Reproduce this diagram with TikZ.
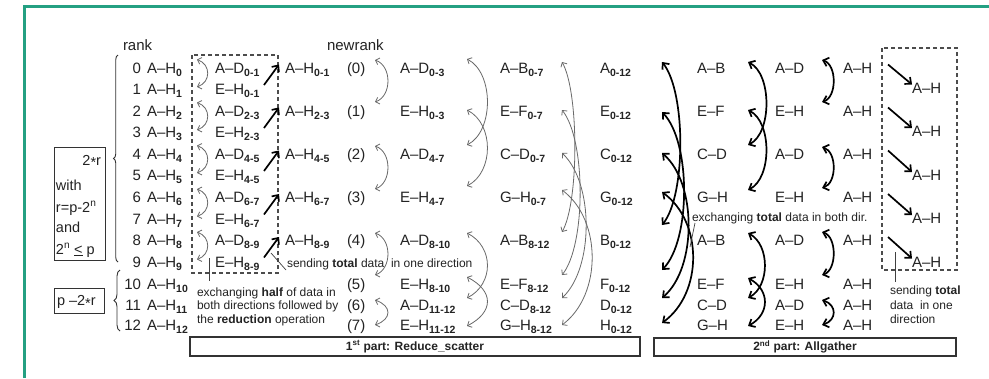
\documentclass[tikz,border=0pt]{standalone}
\usepackage{fontspec}
\setmainfont{Liberation Sans}
\usetikzlibrary{arrows.meta,decorations.pathreplacing}
\definecolor{framegreen}{RGB}{36,160,130}
\definecolor{arrgray}{RGB}{105,105,105}
\definecolor{txt}{RGB}{35,35,35}
\newcommand{\sbs}[1]{\raisebox{-3pt}{\fontsize{10.5}{12}\selectfont\bfseries #1}}
\newcommand{\astr}{\raisebox{-2.5pt}{*}}
\begin{document}
\begin{tikzpicture}[x=1pt,y=-1pt,
  every node/.style={inner sep=0pt,outer sep=0pt,text=txt},
  lab/.style={anchor=base west,font=\fontsize{15}{17}\selectfont},
  num/.style={anchor=base east,font=\fontsize{15}{17}\selectfont},
  note/.style={anchor=base west,font=\fontsize{12}{14}\selectfont},
  grayarr/.style={draw=arrgray,line width=0.8pt,{Straight Barb[length=3.5pt,width=7pt]}-{Straight Barb[length=3.5pt,width=7pt]}},
  blackarr/.style={draw=black,line width=1.7pt,{Straight Barb[length=5pt,width=9pt]}-{Straight Barb[length=5pt,width=9pt]}},
  sendarr/.style={draw=black,line width=1.7pt,-{Straight Barb[length=5pt,width=9pt]}},
  dashbox/.style={draw=black!70,line width=1.1pt,dash pattern=on 4pt off 3pt},
  leader/.style={draw=black!75,line width=0.7pt},
  partbox/.style={draw=black!80,line width=1.1pt,anchor=north west,font=\fontsize{12}{14}\selectfont\bfseries},
  condbox/.style={draw=black!80,line width=1pt,anchor=north west},
]
\useasboundingbox (0,0) rectangle (989,378);
\fill[white] (0,0) rectangle (989,378);
% green frame
\draw[framegreen,line width=3pt] (24,378) -- (24,6) -- (989,6);

% headers
\node[lab] (rank) at (123,50) {rank};
\node[lab] (newrank) at (327,50) {newrank};

% rank rows
\foreach \i/\b in {0/73,1/94.5,2/116,3/137.5,4/159,5/180.5,6/202.5,7/224,8/245.5,9/267,10/289.5,11/310,12/330.5}{
  \node[num] (n\i) at (141,\b) {\i};
  \node[lab] (r\i) at (147,\b) {A–H\sbs{\i}};
}

% braces and condition boxes
\draw[black!80,line width=0.9pt,decorate,decoration={brace,amplitude=4.5pt}] (118,262) -- (118,55);
\draw[black!80,line width=0.9pt,decorate,decoration={brace,amplitude=6pt}] (120,331) -- (120,270);
\node[condbox,minimum width=51pt,minimum height=113pt] (cond1) at (54,147) {};
\node[anchor=base east,font=\fontsize{14.5}{17}\selectfont] (tr) at (101,165) {2\astr r};
\node[anchor=base west,font=\fontsize{14.5}{17}\selectfont] (tw) at (56,190) {with};
\node[anchor=base west,font=\fontsize{14.5}{17}\selectfont] (tp) at (56,212) {r=p-2\textsuperscript{n}};
\node[anchor=base west,font=\fontsize{14.5}{17}\selectfont] (ta) at (56,232) {and};
\node[anchor=base west,font=\fontsize{14.5}{17}\selectfont] (tn) at (56,254) {2\textsuperscript{n} \underline{<} p};
\node[condbox,minimum width=50pt,minimum height=25pt] (cond2) at (54,288) {};
\node[anchor=base west,font=\fontsize{14.5}{17}\selectfont] (tq) at (57,305.5) {p –2\astr r};

% first dashed box column
\draw[dashbox] (192,55) rectangle (278,273);
\foreach \i/\b/\lb/\s in {0/73/A–D/0-1, 1/94.5/E–H/0-1, 2/116/A–D/2-3, 3/137.5/E–H/2-3, 4/159/A–D/4-5, 5/180.5/E–H/4-5, 6/202.5/A–D/6-7, 7/224/E–H/6-7, 8/245.5/A–D/8-9, 9/267/E–H/8-9}
  \node[lab] (h\i) at (215,\b) {\lb\sbs{\s}};
\foreach \i/\b/\s in {0/73/0-1, 2/116/2-3, 4/159/4-5, 6/202.5/6-7, 8/245.5/8-9}
  \node[lab] (m\i) at (285,\b) {A–H\sbs{\s}};

% gray exchange arrows in first box
\foreach \n/\ya/\yb in {a/59.5/87, b/102.5/130, c/145.5/173, d/189/216.5, e/232/259.5}{
  \coordinate (g\n T) at (197,\ya);
  \coordinate (g\n B) at (197,\yb);
  \draw[grayarr] (g\n T) .. controls +(14,5) and +(14,-5) .. (g\n B);
}
% thick send arrows in first box
\foreach \n/\ya/\yb in {a/85/64.5, b/128/107.5, c/171/150.5, d/214.5/194, e/257.5/237}{
  \coordinate (k\n S) at (264,\ya);
  \coordinate (k\n E) at (279,\yb);
  \draw[sendarr] (k\n S) -- (k\n E);
}

% newrank column
\foreach \i/\b in {0/73,1/116,2/159,3/202.5,4/245.5,5/289.5,6/310,7/330.5}
  \node[lab] (p\i) at (347,\b) {(\i)};
\foreach \n/\ya/\yb in {a/60/102, b/146/189, c/233/275, d/300/325}{
  \coordinate (e\n T) at (375,\ya);
  \coordinate (e\n B) at (375,\yb);
  \draw[grayarr] (e\n T) .. controls +(17,6) and +(17,-6) .. (e\n B);
}

% A-D column
\foreach \i/\b/\lb/\s in {0/73/A–D/0-3, 1/116/E–H/0-3, 2/159/A–D/4-7, 3/202.5/E–H/4-7, 4/245.5/A–D/8-10, 5/289.5/E–H/8-10, 6/310/A–D/11-12, 7/330.5/E–H/11-12}
  \node[lab] (q\i) at (400,\b) {\lb\sbs{\s}};
\foreach \n/\ya/\yb in {a/59/145, b/110/186, c/233/298, d/277/326}{
  \coordinate (f\n T) at (467,\ya);
  \coordinate (f\n B) at (467,\yb);
  \draw[grayarr] (f\n T) .. controls +(27,14) and +(27,-14) .. (f\n B);
}

% A-B column
\foreach \i/\b/\lb/\s in {0/73/A–B/0-7, 1/116/E–F/0-7, 2/159/C–D/0-7, 3/202.5/G–H/0-7, 4/245.5/A–B/8-12, 5/289.5/E–F/8-12, 6/310/C–D/8-12, 7/330.5/G–H/8-12}
  \node[lab] (s\i) at (500,\b) {\lb\sbs{\s}};
\foreach \n/\ya/\yb/\d in {a/62/232/17, b/110/275/24, c/153/298/32, d/190/325/40}{
  \coordinate (l\n T) at (562,\ya);
  \coordinate (l\n B) at (562,\yb);
  \draw[grayarr] (l\n T) .. controls +(\d,30) and +(\d,-30) .. (l\n B);
}

% result column
\foreach \i/\b/\lb in {0/73/A, 1/116/E, 2/159/C, 3/202.5/G, 4/245.5/B, 5/289.5/F, 6/310/D, 7/330.5/H}
  \node[lab] (t\i) at (600,\b) {\lb\sbs{0-12}};

% second part: long black arrows
\foreach \n/\ya/\yb/\d in {a/62/225/24, b/112/270/29, c/153/298/35, d/192/323/41}{
  \coordinate (x\n T) at (662,\ya);
  \coordinate (x\n B) at (662,\yb);
  \draw[blackarr] (x\n T) .. controls +(\d,30) and +(\d,-30) .. (x\n B);
}
\foreach \i/\b/\lb in {0/73/A–B, 1/116/E–F, 2/159/C–D, 3/202.5/G–H, 4/245.5/A–B, 5/289.5/E–F, 6/310/C–D, 7/330.5/G–H}
  \node[lab] (u\i) at (697,\b) {\lb};
\foreach \n/\ya/\yb/\d in {a/62/145/24, b/110/190/24, c/233/298/22, d/278/326/22}{
  \coordinate (y\n T) at (748,\ya);
  \coordinate (y\n B) at (748,\yb);
  \draw[blackarr] (y\n T) .. controls +(\d,12) and +(\d,-12) .. (y\n B);
}
\foreach \i/\b/\lb in {0/73/A–D, 1/116/E–H, 2/159/A–D, 3/202.5/E–H, 4/245.5/A–D, 5/289.5/E–H, 6/310/A–D, 7/330.5/E–H}
  \node[lab] (v\i) at (775,\b) {\lb};
\foreach \n/\ya/\yb in {a/60/102, b/147/188, c/232/275, d/300/325}{
  \coordinate (o\n T) at (822,\ya);
  \coordinate (o\n B) at (822,\yb);
  \draw[blackarr] (o\n T) .. controls +(15,5) and +(15,-5) .. (o\n B);
}
\foreach \i/\b in {0/73, 1/116, 2/159, 3/202.5, 4/245.5, 5/289.5, 6/310, 7/330.5}
  \node[lab] (w\i) at (843,\b) {A–H};

% second dashed box
\draw[dashbox] (882,48) rectangle (957,270);
\foreach \i/\b in {1/93, 2/136.5, 3/180.5, 4/223.5, 5/267}
  \node[lab] (z\i) at (912,\b) {A–H};
\foreach \n/\ya/\yb in {a/64.5/84.5, b/107.5/128, c/150.5/172, d/194/215, e/237/258.5}{
  \coordinate (s\n S) at (888,\ya);
  \coordinate (s\n E) at (912,\yb);
  \draw[sendarr] (s\n S) -- (s\n E);
}

% annotations
\node[note] (an1) at (197,296) {exchanging \textbf{half} of data in};
\node[note] (an2) at (197,309.5) {both directions followed by};
\node[note] (an3) at (197,323) {the \textbf{reduction} operation};
\coordinate (ld1a) at (209,258);
\coordinate (ld1b) at (209,281);
\draw[leader] (ld1a) -- (ld1b);

\node[note] (an4) at (287,267) {sending \textbf{total} data\ \ in one direction};
\coordinate (ld2a) at (271,253);
\coordinate (ld2b) at (286,270);
\draw[leader] (ld2a) -- (ld2b);

\node[note] (an5) at (692,221) {exchanging \textbf{total} data in both dir.};
\coordinate (ld3a) at (695,223);
\coordinate (ld3b) at (690,247);
\draw[leader] (ld3a) -- (ld3b);

\node[note] (an6) at (890,294) {sending \textbf{total}};
\node[note] (an7) at (890,309) {data\ \ in one};
\node[note] (an8) at (890,323) {direction};
\coordinate (ld4a) at (895,252);
\coordinate (ld4b) at (895,282);
\draw[leader] (ld4a) -- (ld4b);

% part boxes
\node[partbox,minimum width=450pt,minimum height=19pt] (part1) at (190,337) {1\textsuperscript{st} part: Reduce\_scatter};
\node[partbox,minimum width=302pt,minimum height=18pt] (part2) at (654,338) {2\textsuperscript{nd} part: Allgather};
\end{tikzpicture}
\end{document}
